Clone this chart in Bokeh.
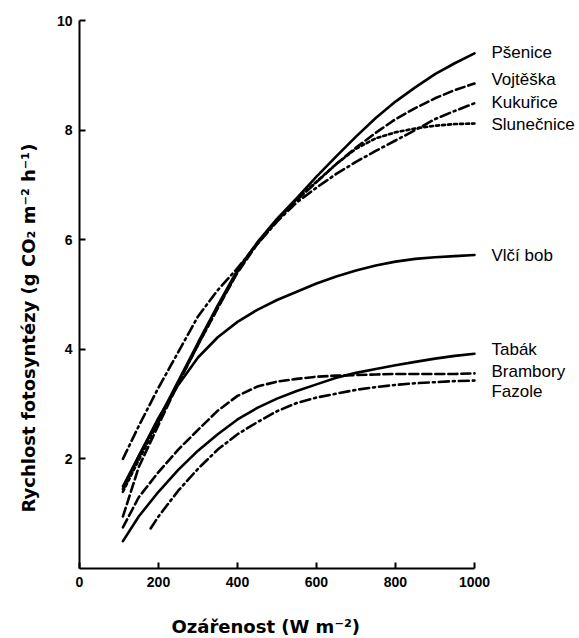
import math
from bokeh.plotting import figure
from bokeh.models import Label, FixedTicker, Range1d, Title
from bokeh.embed import file_html
from bokeh.resources import INLINE

# ---- data ----
irr = [110, 150, 200, 250, 300, 350, 400, 450, 500, 550, 600, 650, 700, 750, 800, 850, 900, 950, 1000]
irr_fazole = [180, 200, 250, 300, 350, 400, 450, 500, 550, 600, 650, 700, 750, 800, 850, 900, 950, 1000]

psenice = [1.5, 2.05, 2.72, 3.42, 4.12, 4.8, 5.45, 5.95, 6.38, 6.76, 7.15, 7.52, 7.88, 8.22, 8.52, 8.78, 9.02, 9.22, 9.40]
vojteska = [0.95, 1.85, 2.62, 3.38, 4.08, 4.75, 5.4, 5.92, 6.35, 6.72, 7.05, 7.38, 7.68, 7.95, 8.2, 8.4, 8.58, 8.73, 8.85]
kukurice = [2.0, 2.6, 3.3, 3.95, 4.6, 5.08, 5.48, 5.92, 6.33, 6.68, 6.95, 7.2, 7.42, 7.62, 7.81, 8.0, 8.2, 8.35, 8.49]
slunecnice = [1.4, 1.98, 2.68, 3.38, 4.08, 4.76, 5.42, 5.93, 6.36, 6.74, 7.06, 7.38, 7.66, 7.85, 7.96, 8.03, 8.08, 8.11, 8.12]
vlci_bob = [1.45, 2.05, 2.75, 3.35, 3.85, 4.22, 4.5, 4.72, 4.9, 5.05, 5.2, 5.33, 5.44, 5.53, 5.6, 5.65, 5.68, 5.7, 5.72]
tabak = [0.5, 0.95, 1.4, 1.8, 2.15, 2.45, 2.72, 2.93, 3.1, 3.24, 3.36, 3.48, 3.57, 3.64, 3.71, 3.77, 3.83, 3.88, 3.92]
brambory = [0.75, 1.3, 1.76, 2.17, 2.53, 2.88, 3.15, 3.32, 3.41, 3.46, 3.5, 3.52, 3.53, 3.54, 3.55, 3.55, 3.55, 3.55, 3.56]
fazole = [0.73, 0.95, 1.42, 1.82, 2.17, 2.45, 2.67, 2.87, 3.02, 3.12, 3.19, 3.26, 3.31, 3.35, 3.38, 3.40, 3.42, 3.43]

names = ["Pšenice", "Vojtěška", "Kukuřice", "Slunečnice", "Vlčí bob", "Tabák", "Brambory", "Fazole"]
xs = [irr, irr, irr, irr, irr, irr, irr, irr_fazole]
ys = [psenice, vojteska, kukurice, slunecnice, vlci_bob, tabak, brambory, fazole]

x_ticks = [0, 200, 400, 600, 800, 1000]
y_ticks = [2, 4, 6, 8, 10]

# ---- styling / layout ----
dashes = ["solid", "9 4", "10 4 2 4", "3 3", "solid", "solid", "9 4", "10 4 2 4"]
label_y = [9.42, 8.92, 8.50, 8.10, 5.71, 4.00, 3.59, 3.23]
FONT = "Liberation Sans"
TITLE_FONT = "DejaVu Sans"

# frame extends to the right edge so the curve names can sit inside it
p = figure(frame_width=501, frame_height=548, output_backend="svg", toolbar_location=None,
           x_range=Range1d(0, 1268.4), y_range=Range1d(0, 10),
           min_border_left=78, min_border_right=0, min_border_top=20, min_border_bottom=70)
p.outline_line_color = None
p.xgrid.visible = False
p.ygrid.visible = False
p.background_fill_color = "white"
p.border_fill_color = "white"

for x, y, d in zip(xs, ys, dashes):
    p.line(x, y, line_color="black", line_width=2.6, line_dash=d, line_cap="round")

for ax in (p.xaxis[0], p.yaxis[0]):
    ax.axis_line_width = 2
    ax.major_tick_line_width = 2
    ax.major_tick_in = 6
    ax.major_tick_out = 0
    ax.minor_tick_line_color = None
    ax.major_label_text_font = FONT
    ax.major_label_text_font_style = "bold"
    ax.major_label_text_font_size = "14px"
    ax.major_label_text_color = "black"
    ax.axis_line_color = "black"
    ax.major_tick_line_color = "black"

p.xaxis[0].bounds = (0, 1000)
p.xaxis[0].ticker = FixedTicker(ticks=x_ticks)
p.yaxis[0].ticker = FixedTicker(ticks=y_ticks)
p.xaxis[0].major_label_standoff = 8
p.yaxis[0].major_label_standoff = 7

p.add_layout(Title(text="Ozářenost (W m⁻²)", align="left", offset=92, vertical_align="top",
                   padding=dict(top=15, bottom=0, left=0, right=0),
                   text_font=TITLE_FONT, text_font_style="bold", text_font_size="18px",
                   text_color="black", standoff=22), "below")

p.add_layout(Title(text="Rychlost fotosyntézy (g CO₂ m⁻² h⁻¹)", align="left", offset=56,
                   text_font=TITLE_FONT, text_font_style="bold", text_font_size="18px",
                   text_color="black", standoff=30), "left")

for n, ly in zip(names, label_y):
    p.add_layout(Label(x=1043, y=ly, text=n, text_align="left", text_baseline="middle",
                       text_font=FONT, text_font_size="17px", text_color="black"))

open("out.html", "w").write(file_html(p, INLINE))
